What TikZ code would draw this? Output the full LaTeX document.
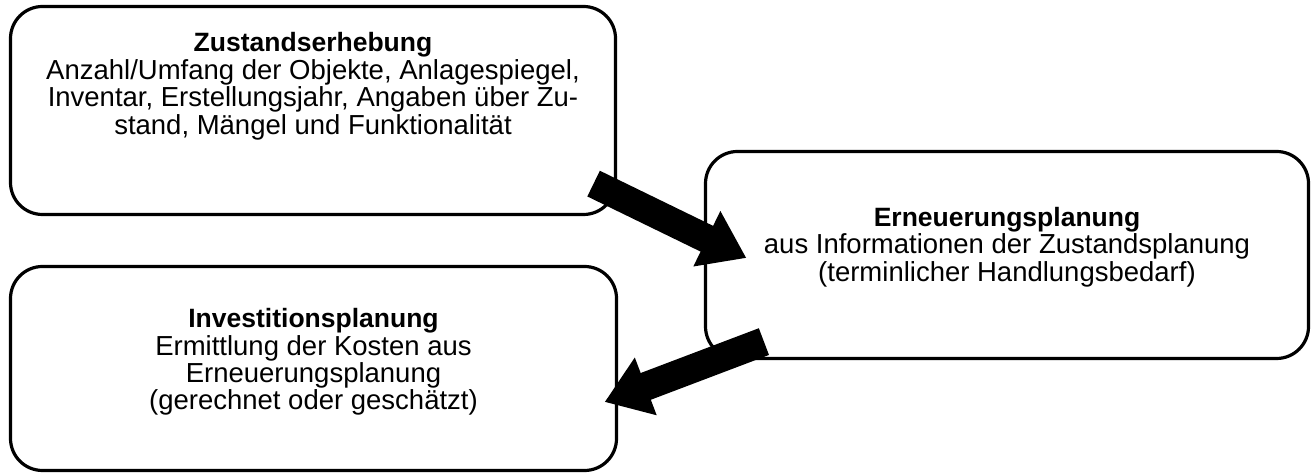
\documentclass[tikz,border=0pt]{standalone}
\usepackage{fontspec}
\setmainfont{Liberation Sans}
\usetikzlibrary{arrows.meta,positioning,calc}
\tikzstyle{stage} = [draw=black, line width=1.6pt, rounded corners=16pt, inner sep=0pt, fill=none]
\tikzstyle{content} = [align=center, inner sep=0pt, text=black, font=\fontsize{13.75}{13.75}\selectfont]
\tikzstyle{bigarrow} = [draw=black, line width=14.3pt, -{Triangle[length=22pt, width=29.3pt]}]
\newcommand{\stagetitle}[1]{{\fontsize{13.25}{13.75}\selectfont\bfseries #1}}

\begin{document}
\begin{tikzpicture}[x=0.5pt, y=-0.5pt]
\useasboundingbox (0,0) rectangle (1315,474);

% stages =============================
\node[stage, minimum width=302.5pt, minimum height=104pt] (zustand) at (313,110.5) {};
\node[stage, minimum width=301.5pt, minimum height=103.5pt] (erneuerung) at (1007,255) {};
\node[stage, minimum width=303pt, minimum height=102pt] (invest) at (313.5,368.5) {};

% texts
\node[content, below=13.75pt of zustand.north] (zustandtext) {\stagetitle{Zustandserhebung}\\
  Anzahl/Umfang der Objekte, Anlagespiegel,\\
  Inventar, Erstellungsjahr, Angaben über Zu-\\
  stand, Mängel und Funktionalität};
\node[content, below=28.5pt of erneuerung.north] (erneuerungtext) {\stagetitle{Erneuerungsplanung}\\
  aus Informationen der Zustandsplanung\\
  (terminlicher Handlungsbedarf)};
\node[content, below=21.5pt of invest.north] (investtext) {\stagetitle{Investitionsplanung}\\
  Ermittlung der Kosten aus\\
  Erneuerungsplanung\\
  (gerechnet oder geschätzt)};

% arrows
\coordinate (tailA) at ($(zustand.south east)+(-23.5,-32.5)$);
\coordinate (tipA) at ($(erneuerung.west)+(42.5,3)$);
\coordinate (tailB) at ($(erneuerung.south west)+(60,-18.5)$);
\coordinate (tipB) at ($(invest.east)+(-13.5,33.5)$);
\path[bigarrow] (tailA) -- (tipA);
\path[bigarrow] (tailB) -- (tipB);

\end{tikzpicture}
\end{document}
